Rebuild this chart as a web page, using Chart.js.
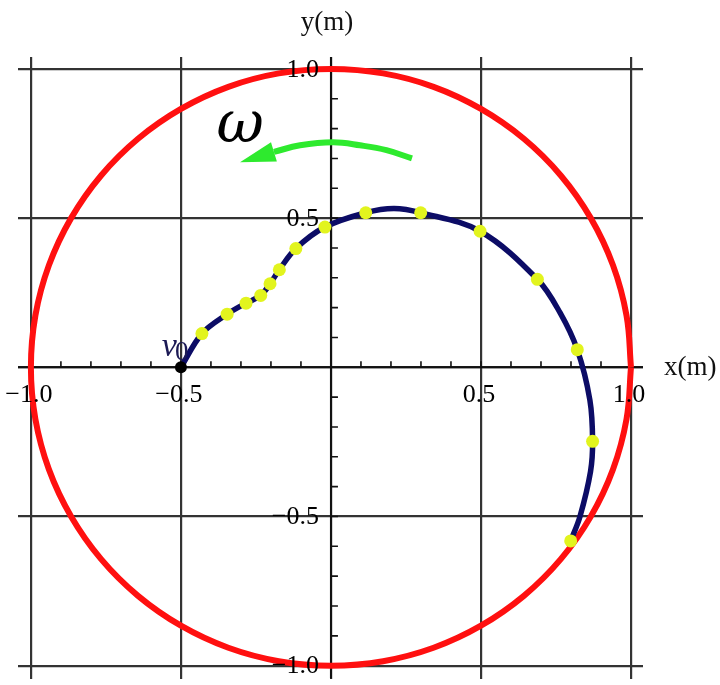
<!DOCTYPE html>
<html>
<head>
<meta charset="utf-8">
<script src="https://cdn.jsdelivr.net/npm/chart.js@4/dist/chart.umd.min.js"></script>
<style>
  html, body { margin: 0; padding: 0; background: #ffffff; }
  #wrap { width: 720px; height: 685px; }
</style>
</head>
<body>
<div id="wrap"><canvas id="c" width="720" height="685"></canvas></div>
<script>
// ---- data ----
const xTickValues = [-1, -0.5, 0.5, 1];
const xTickLabels = ["\u22121.0", "\u22120.5", "0.5", "1.0"];
const yTickValues = [1, 0.5, -0.5, -1];
const yTickLabels = ["1.0", "0.5", "\u22120.5", "\u22121.0"];
const gridValues = [-1, -0.5, 0, 0.5, 1];
const minorStep = 0.1;

// red boundary circle (radius 1 m), points read around the circle
const circleX = [1, 0.985, 0.940, 0.866, 0.766, 0.643, 0.5, 0.342, 0.174, 0, -0.174, -0.342, -0.5, -0.643, -0.766, -0.866, -0.940, -0.985, -1, -0.985, -0.940, -0.866, -0.766, -0.643, -0.5, -0.342, -0.174, 0, 0.174, 0.342, 0.5, 0.643, 0.766, 0.866, 0.940, 0.985, 1];
const circleY = [0, 0.174, 0.342, 0.5, 0.643, 0.766, 0.866, 0.940, 0.985, 1, 0.985, 0.940, 0.866, 0.766, 0.643, 0.5, 0.342, 0.174, 0, -0.174, -0.342, -0.5, -0.643, -0.766, -0.866, -0.940, -0.985, -1, -0.985, -0.940, -0.866, -0.766, -0.643, -0.5, -0.342, -0.174, 0];

// trajectory (navy curve)
const trajX = [-0.5, -0.43, -0.346, -0.283, -0.234, -0.203, -0.172, -0.117, -0.02, 0.116, 0.21, 0.299, 0.497, 0.688, 0.763, 0.821, 0.863, 0.872, 0.865, 0.83, 0.799];
const trajY = [0, 0.113, 0.178, 0.215, 0.241, 0.280, 0.327, 0.398, 0.47, 0.518, 0.532, 0.518, 0.456, 0.295, 0.184, 0.059, -0.11, -0.248, -0.35, -0.5, -0.582];

// sampled positions (yellow dots)
const dotX = [-0.43, -0.346, -0.283, -0.234, -0.203, -0.172, -0.117, -0.02, 0.116, 0.299, 0.497, 0.688, 0.821, 0.872, 0.799];
const dotY = [0.113, 0.178, 0.215, 0.241, 0.280, 0.327, 0.398, 0.47, 0.518, 0.518, 0.456, 0.295, 0.059, -0.248, -0.582];

// start point v0
const startX = [-0.5];
const startY = [0];

// rotation arrow (green) shaft and tip
const arrowX = [0.27, 0.185, 0.097, 0.007, -0.103, -0.19];
const arrowY = [0.700, 0.728, 0.744, 0.754, 0.744, 0.722];
const arrowTip = { x: -0.303, y: 0.687 };
const omegaPos = { x: -0.303, y: 0.779 };

const xTitle = "x(m)";
const yTitle = "y(m)";

const pts = (xs, ys) => xs.map((x, i) => ({ x: x, y: ys[i] }));

const SERIF = "'Liberation Serif', 'DejaVu Serif', serif";

const overlay = {
  id: 'overlay',
  beforeDatasetsDraw(chart) {
    const ctx = chart.ctx, xs = chart.scales.x, ys = chart.scales.y, a = chart.chartArea;
    const x0 = xs.getPixelForValue(0), y0 = ys.getPixelForValue(0);
    ctx.save();
    ctx.strokeStyle = '#111';
    ctx.lineWidth = 2;
    ctx.beginPath();
    ctx.moveTo(a.left, y0); ctx.lineTo(a.right, y0);
    ctx.moveTo(x0, a.top); ctx.lineTo(x0, a.bottom);
    ctx.stroke();
    ctx.lineWidth = 1.6;
    ctx.beginPath();
    for (let k = -10; k <= 10; k++) {
      if (k === 0) continue;
      const v = k * minorStep;
      const px = xs.getPixelForValue(v);
      ctx.moveTo(px, y0); ctx.lineTo(px, y0 - 6);
      const py = ys.getPixelForValue(v);
      ctx.moveTo(x0, py); ctx.lineTo(x0 + 7, py);
    }
    ctx.stroke();
    ctx.restore();
  },
  afterDatasetsDraw(chart) {
    const ctx = chart.ctx, xs = chart.scales.x, ys = chart.scales.y;
    const x0 = xs.getPixelForValue(0), y0 = ys.getPixelForValue(0);
    ctx.save();
    // arrow head
    const n = arrowX.length;
    const bx = xs.getPixelForValue(arrowX[n - 1]), by = ys.getPixelForValue(arrowY[n - 1]);
    const tx = xs.getPixelForValue(arrowTip.x), ty = ys.getPixelForValue(arrowTip.y);
    const dx = tx - bx, dy = ty - by, len = Math.hypot(dx, dy);
    const nx = -dy / len, ny = dx / len, hw = 10;
    ctx.fillStyle = '#2eea2e';
    ctx.beginPath();
    ctx.moveTo(tx, ty);
    ctx.lineTo(bx + nx * hw, by + ny * hw);
    ctx.lineTo(bx - nx * hw, by - ny * hw);
    ctx.closePath();
    ctx.fill();

    // tick labels
    ctx.fillStyle = '#000';
    ctx.font = '26px ' + SERIF;
    ctx.textAlign = 'center';
    ctx.textBaseline = 'middle';
    xTickValues.forEach((v, i) => {
      ctx.fillText(xTickLabels[i], xs.getPixelForValue(v) - 2, y0 + 28);
    });
    ctx.textAlign = 'right';
    yTickValues.forEach((v, i) => {
      ctx.fillText(yTickLabels[i], x0 - 12, ys.getPixelForValue(v) + 1);
    });

    // axis titles
    ctx.textBaseline = 'alphabetic';
    ctx.textAlign = 'left';
    ctx.fillStyle = '#111';
    ctx.font = '27px ' + SERIF;
    ctx.fillText(xTitle, 664, y0 + 8);
    ctx.textAlign = 'center';
    ctx.fillText(yTitle, x0 - 4, 30);

    // omega
    ctx.font = 'italic 58px ' + "'DejaVu Serif', 'Liberation Serif', serif";
    ctx.textAlign = 'center';
    ctx.textBaseline = 'middle';
    ctx.fillStyle = '#000';
    ctx.fillText('\u03C9', xs.getPixelForValue(omegaPos.x), ys.getPixelForValue(omegaPos.y) - 8);

    // v0 label
    const sx = xs.getPixelForValue(startX[0]), sy = ys.getPixelForValue(startY[0]);
    ctx.textBaseline = 'alphabetic';
    ctx.textAlign = 'right';
    ctx.fillStyle = '#1c1a55';
    ctx.font = 'italic 34px ' + SERIF;
    ctx.fillText('v', sx - 4, sy - 11);
    ctx.textAlign = 'left';
    ctx.font = '27px ' + SERIF;
    ctx.fillText('0', sx - 6, sy - 7);
    // start point on top
    ctx.fillStyle = '#000';
    ctx.beginPath();
    ctx.arc(sx, sy, 6, 0, Math.PI * 2);
    ctx.fill();
    ctx.restore();
  }
};

const gridOpts = { color: '#333333', lineWidth: 2.2, drawTicks: false };

new Chart(document.getElementById('c'), {
  type: 'scatter',
  data: {
    datasets: [
      { label: 'samples', data: pts(dotX, dotY), showLine: false, pointRadius: 6.5, pointHoverRadius: 6.5,
        pointBackgroundColor: '#e2f41e', pointBorderWidth: 0, borderColor: '#e2f41e' },
      { label: 'trajectory', data: pts(trajX, trajY), showLine: true, pointRadius: 0, borderColor: '#0c0c66',
        borderWidth: 5.5, tension: 0.35, fill: false },
      { label: 'omega', data: pts(arrowX, arrowY), showLine: true, pointRadius: 0, borderColor: '#2eea2e',
        borderWidth: 6, tension: 0.4, fill: false },
      { label: 'boundary', data: pts(circleX, circleY), showLine: true, pointRadius: 0, borderColor: '#ff1010',
        borderWidth: 6, tension: 0.4, fill: false }
    ]
  },
  options: {
    responsive: false,
    animation: false,
    events: [],
    layout: { padding: { left: 18, top: 57, right: 77, bottom: 5 } },
    plugins: { legend: { display: false }, tooltip: { enabled: false } },
    scales: {
      x: {
        type: 'linear', min: -1.043, max: 1.04,
        afterBuildTicks: (s) => { s.ticks = gridValues.map(v => ({ value: v })); },
        ticks: { display: false },
        grid: gridOpts,
        border: { display: false }
      },
      y: {
        type: 'linear', min: -1.043, max: 1.04,
        afterBuildTicks: (s) => { s.ticks = gridValues.map(v => ({ value: v })); },
        ticks: { display: false },
        grid: gridOpts,
        border: { display: false }
      }
    }
  },
  plugins: [overlay]
});
</script>
</body>
</html>
